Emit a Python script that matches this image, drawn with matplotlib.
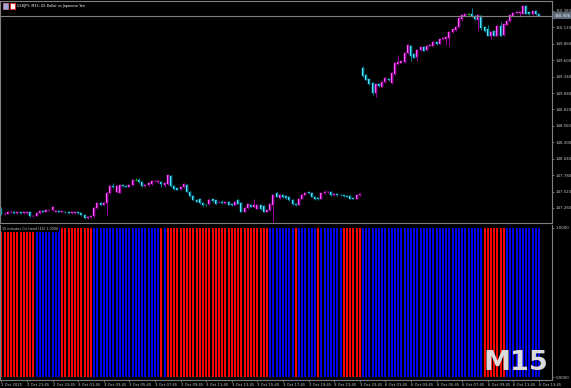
import numpy as np
import matplotlib
matplotlib.use("Agg")
import matplotlib.pyplot as plt
import matplotlib.transforms as mtransforms
from matplotlib.patches import Rectangle

# USDJPY M15 bars, 2 Oct 19:45 -> 3 Oct 23:45, then 6 Oct 00:00 -> 13:45
opens = [
    147.24, 147.16, 147.17, 147.19, 147.20, 147.18, 147.19, 147.18, 147.18, 147.19,
    147.13, 147.14, 147.18, 147.21, 147.20, 147.22, 147.22, 147.20, 147.21, 147.20,
    147.20, 147.19, 147.18, 147.18, 147.19, 147.18, 147.15, 147.10, 147.11, 147.13,
    147.26, 147.34, 147.31, 147.34, 147.50, 147.61, 147.52, 147.50, 147.62, 147.61,
    147.60, 147.62, 147.71, 147.71, 147.67, 147.61, 147.62, 147.64, 147.68, 147.67,
    147.67, 147.62, 147.64, 147.77, 147.61, 147.57, 147.56, 147.59, 147.63, 147.52,
    147.45, 147.39,
    147.40, 147.34, 147.31, 147.32, 147.40, 147.38, 147.35, 147.36, 147.34, 147.36,
    147.32, 147.30, 147.38, 147.34, 147.20, 147.26, 147.31, 147.28, 147.25, 147.30,
    147.29, 147.20, 147.22, 147.31, 147.50, 147.42, 147.47, 147.45, 147.44, 147.39,
    147.33, 147.31, 147.41, 147.47, 147.51, 147.49, 147.44, 147.42, 147.41, 147.49,
    147.51, 147.52, 147.46, 147.48, 147.47, 147.46, 147.45, 147.45, 147.42, 147.41,
    147.46,
    149.48, 149.37, 149.30, 149.24, 149.08, 149.22, 149.18, 149.25, 149.31, 149.24,
    149.38, 149.54, 149.56, 149.57, 149.71, 149.83, 149.70, 149.65, 149.76, 149.81,
    149.76, 149.83, 149.83, 149.89, 149.86, 149.93, 149.94, 149.95, 150.04, 150.08,
    150.12, 150.26, 150.30, 150.33, 150.34, 150.30, 150.23, 150.30, 150.12, 150.10,
    149.99, 150.06, 149.99, 150.14, 150.00, 150.16, 150.22, 150.30, 150.35, 150.35,
    150.34, 150.46, 150.36, 150.33, 150.38, 150.34,
]
closes = [
    147.16, 147.17, 147.20, 147.20, 147.18, 147.19, 147.18, 147.19, 147.20, 147.13,
    147.14, 147.18, 147.21, 147.20, 147.22, 147.23, 147.27, 147.21, 147.20, 147.21,
    147.19, 147.18, 147.19, 147.19, 147.18, 147.15, 147.10, 147.11, 147.13, 147.26,
    147.34, 147.31, 147.34, 147.50, 147.61, 147.59, 147.61, 147.62, 147.61, 147.60,
    147.62, 147.71, 147.71, 147.67, 147.61, 147.62, 147.65, 147.68, 147.69, 147.69,
    147.64, 147.66, 147.78, 147.61, 147.56, 147.55, 147.59, 147.64, 147.52, 147.45,
    147.39, 147.36,
    147.34, 147.31, 147.30, 147.39, 147.37, 147.33, 147.36, 147.34, 147.35, 147.31,
    147.30, 147.36, 147.33, 147.20, 147.26, 147.32, 147.28, 147.30, 147.31, 147.24,
    147.20, 147.22, 147.33, 147.47, 147.44, 147.47, 147.43, 147.42, 147.38, 147.32,
    147.30, 147.41, 147.47, 147.50, 147.49, 147.44, 147.40, 147.40, 147.49, 147.51,
    147.52, 147.46, 147.48, 147.46, 147.46, 147.45, 147.44, 147.41, 147.41, 147.46,
    147.48,
    149.35, 149.29, 149.22, 149.08, 149.22, 149.19, 149.26, 149.32, 149.28, 149.40,
    149.56, 149.57, 149.58, 149.72, 149.84, 149.67, 149.64, 149.76, 149.81, 149.75,
    149.83, 149.84, 149.89, 149.85, 149.93, 149.95, 149.97, 150.05, 150.09, 150.13,
    150.27, 150.31, 150.34, 150.33, 150.30, 150.25, 150.32, 150.11, 150.06, 149.99,
    150.05, 149.99, 150.14, 149.99, 150.17, 150.22, 150.31, 150.35, 150.36, 150.36,
    150.46, 150.34, 150.33, 150.38, 150.33, 150.306,
]
highs = [
    147.27, 147.19, 147.21, 147.22, 147.21, 147.20, 147.20, 147.20, 147.21, 147.20,
    147.15, 147.19, 147.22, 147.22, 147.23, 147.24, 147.28, 147.22, 147.22, 147.22,
    147.21, 147.20, 147.20, 147.20, 147.20, 147.19, 147.16, 147.12, 147.14, 147.27,
    147.35, 147.35, 147.36, 147.51, 147.62, 147.66, 147.62, 147.63, 147.64, 147.63,
    147.64, 147.72, 147.74, 147.73, 147.68, 147.64, 147.66, 147.69, 147.70, 147.70,
    147.68, 147.67, 147.79, 147.78, 147.62, 147.58, 147.60, 147.66, 147.64, 147.53,
    147.46, 147.40,
    147.41, 147.35, 147.32, 147.40, 147.41, 147.39, 147.37, 147.38, 147.36, 147.37,
    147.33, 147.37, 147.40, 147.35, 147.27, 147.33, 147.32, 147.40, 147.32, 147.31,
    147.30, 147.23, 147.34, 147.48, 147.52, 147.48, 147.48, 147.46, 147.45, 147.40,
    147.34, 147.42, 147.48, 147.51, 147.52, 147.50, 147.45, 147.43, 147.50, 147.55,
    147.53, 147.53, 147.49, 147.49, 147.48, 147.47, 147.46, 147.46, 147.43, 147.47,
    147.49,
    149.51, 149.38, 149.31, 149.25, 149.23, 149.24, 149.27, 149.33, 149.32, 149.41,
    149.57, 149.68, 149.59, 149.73, 149.85, 149.84, 149.71, 149.77, 149.82, 149.82,
    149.84, 149.86, 149.90, 149.90, 149.94, 149.96, 149.98, 150.06, 150.10, 150.14,
    150.28, 150.32, 150.35, 150.35, 150.43, 150.31, 150.33, 150.31, 150.13, 150.15,
    150.06, 150.07, 150.15, 150.20, 150.18, 150.23, 150.32, 150.36, 150.37, 150.37,
    150.47, 150.47, 150.37, 150.39, 150.39, 150.35,
]
lows = [
    147.15, 147.15, 147.16, 147.18, 147.17, 147.17, 147.17, 147.17, 147.17, 147.12,
    147.12, 147.13, 147.17, 147.19, 147.19, 147.21, 147.21, 147.19, 147.19, 147.19,
    147.18, 147.17, 147.17, 147.17, 147.17, 147.14, 147.09, 147.09, 147.10, 147.12,
    147.25, 147.30, 147.30, 147.15, 147.48, 147.58, 147.50, 147.49, 147.60, 147.59,
    147.59, 147.61, 147.70, 147.66, 147.60, 147.60, 147.61, 147.62, 147.67, 147.66,
    147.60, 147.60, 147.62, 147.60, 147.55, 147.54, 147.55, 147.58, 147.51, 147.44,
    147.38, 147.35,
    147.33, 147.29, 147.29, 147.31, 147.36, 147.32, 147.34, 147.33, 147.33, 147.30,
    147.29, 147.29, 147.32, 147.19, 147.19, 147.25, 147.27, 147.27, 147.24, 147.23,
    147.19, 147.19, 147.21, 147.04, 147.43, 147.41, 147.42, 147.41, 147.37, 147.31,
    147.29, 147.30, 147.40, 147.46, 147.48, 147.43, 147.39, 147.39, 147.40, 147.48,
    147.50, 147.45, 147.45, 147.45, 147.45, 147.44, 147.43, 147.40, 147.40, 147.40,
    147.45,
    149.34, 149.28, 149.21, 149.05, 149.02, 149.18, 149.17, 149.24, 149.27, 149.23,
    149.37, 149.53, 149.55, 149.56, 149.70, 149.58, 149.63, 149.58, 149.75, 149.74,
    149.75, 149.82, 149.82, 149.84, 149.85, 149.92, 149.84, 149.82, 150.03, 150.07,
    150.11, 150.22, 150.29, 150.32, 150.29, 150.24, 150.08, 150.08, 150.05, 149.98,
    149.93, 149.98, 149.98, 149.98, 149.99, 150.15, 150.21, 150.29, 150.34, 150.28,
    150.33, 150.33, 150.32, 150.32, 150.32, 150.30,
]

# Cci trend colour per bar as runs: r = red, b = blue
trend_runs = [("r", 11), ("b", 8), ("r", 10), ("b", 21), ("r", 1), ("b", 1),
              ("r", 32), ("b", 8), ("r", 1), ("b", 6), ("r", 1), ("b", 7),
              ("r", 6), ("b", 38), ("r", 7), ("b", 11)]

price_ticks = [150.380, 150.120, 149.860, 149.600, 149.340, 149.080, 148.820,
               148.560, 148.300, 148.040, 147.780, 147.520, 147.260]
time_tick_bars = [0, 8, 16, 24, 32, 40, 48, 56, 64, 72, 80, 88, 96, 104, 112,
                  120, 128, 136, 144, 152, 160, 168]
time_tick_labels = ["2 Oct 2025", "2 Oct 21:45", "2 Oct 23:45", "3 Oct 01:45",
                    "3 Oct 03:45", "3 Oct 05:45", "3 Oct 07:45", "3 Oct 09:45",
                    "3 Oct 11:45", "3 Oct 13:45", "3 Oct 15:45", "3 Oct 17:45",
                    "3 Oct 19:45", "3 Oct 21:45", "3 Oct 23:45", "6 Oct 01:45",
                    "6 Oct 03:45", "6 Oct 05:45", "6 Oct 07:45", "6 Oct 09:45",
                    "6 Oct 11:45", "6 Oct 13:45"]

W, H = 571.0, 388.0
grey = "#808080"
txt = "#c8c8c8"

fig = plt.figure(figsize=(5.71, 3.88), dpi=100, facecolor="black")

# main price pane, pixel rows 1..223, columns 0..552
ax = fig.add_axes([0, 1 - 223 / H, 552 / W, 222 / H], facecolor="black")
# indicator pane, rows 225..380
ax2 = fig.add_axes([0, 1 - 380 / H, 552 / W, 155 / H], facecolor="black")

o = np.array(opens)
c = np.array(closes)
hi = np.array(highs)
lo = np.array(lows)
x = np.arange(len(o))

bull = c > o
bear = c < o
doji = c == o

# wicks
ax.vlines(x[bull], lo[bull], hi[bull], color="#a000a0", lw=0.7)
ax.vlines(x[bear], lo[bear], hi[bear], color="#00889f", lw=0.7)
ax.vlines(x[doji], lo[doji], hi[doji], color="#00b000", lw=0.7)

# bodies
body_h = np.maximum(np.abs(c - o), 0.008)
body_b = np.minimum(o, c)
ax.bar(x[bull], body_h[bull], bottom=body_b[bull], width=0.62,
       color="#ff78ff", edgecolor="#f020f0", lw=0.35)
ax.bar(x[bear], body_h[bear], bottom=body_b[bear], width=0.62,
       color="#7ae8ff", edgecolor="#10bce0", lw=0.35)
ax.hlines(c[doji], x[doji] - 0.35, x[doji] + 0.35, color="#00c000", lw=0.8)

xlo, xhi = -0.44, 172.06
ax.set_xlim(xlo, xhi)
ax.set_ylim(147.022, 150.538)

# bid line + label
last = closes[-1]
ax.axhline(last, color=grey, lw=0.8)

ax.yaxis.tick_right()
ax.set_yticks(price_ticks)
ax.set_yticklabels(["%.3f" % p for p in price_ticks])
ax.tick_params(axis="y", colors=grey, labelcolor=txt, labelsize=2.8,
               length=1.5, width=0.6, pad=1.2)
ax.set_xticks([])
for s in ax.spines.values():
    s.set_color(grey)
    s.set_linewidth(0.8)

tr = mtransforms.blended_transform_factory(ax.transAxes, ax.transData)
ax.text(1.004, last, "%.3f" % last, transform=tr, ha="left", va="center",
        fontsize=2.8, color="white",
        bbox=dict(boxstyle="square,pad=0.35", fc="#5a6878", ec="none"))

# indicator histogram
colors = []
for col, n in trend_runs:
    colors += ["#ff0000" if col == "r" else "#0000f0"] * n
ax2.bar(x, np.ones(len(x)), width=0.64, color=colors)
ax2.set_xlim(xlo, xhi)
ax2.set_ylim(-0.020, 1.020)
ax2.yaxis.tick_right()
ax2.set_yticks([0, 1])
ax2.set_yticklabels(["0.0000", "1.0000"])
ax2.tick_params(axis="y", colors=grey, labelcolor=txt, labelsize=2.8,
                length=1.5, width=0.6, pad=1.2)
ax2.set_xticks(time_tick_bars)
ax2.set_xticklabels(time_tick_labels)
ax2.tick_params(axis="x", colors=grey, labelcolor=txt, labelsize=2.7,
                length=1.5, width=0.6, pad=0.8)
plt.setp(ax2.get_xticklabels(), ha="left")
for s in ax2.spines.values():
    s.set_color(grey)
    s.set_linewidth(0.8)
ax2.spines["top"].set_visible(False)

ax2.text(0.004, 0.985, "15 minutes Cci trend (14) 1.0000", transform=ax2.transAxes,
         ha="left", va="top", fontsize=2.4, color=txt,
         bbox=dict(boxstyle="square,pad=0.3", fc="black", ec="none"))

# chart title + icons
fig.add_artist(Rectangle((3 / W, 1 - 9 / H), 5 / W, 6 / H, transform=fig.transFigure,
                         fc="#9aa8e0", ec="#e080a0", lw=0.5))
fig.add_artist(Rectangle((10 / W, 1 - 9 / H), 5 / W, 6 / H, transform=fig.transFigure,
                         fc="white", ec="#e03030", lw=0.8))
fig.text(17 / W, 1 - 6 / H, "USDJPY, M15: US Dollar vs Japanese Yen",
         fontsize=2.4, color="white", va="center", ha="left")

# timeframe watermark
fig.text(484 / W, 1 - 370 / H, "M15", fontsize=19.5, fontweight="bold",
         color="#dadada", ha="left", va="baseline")

fig.savefig("out.png", dpi=100, facecolor="black")
